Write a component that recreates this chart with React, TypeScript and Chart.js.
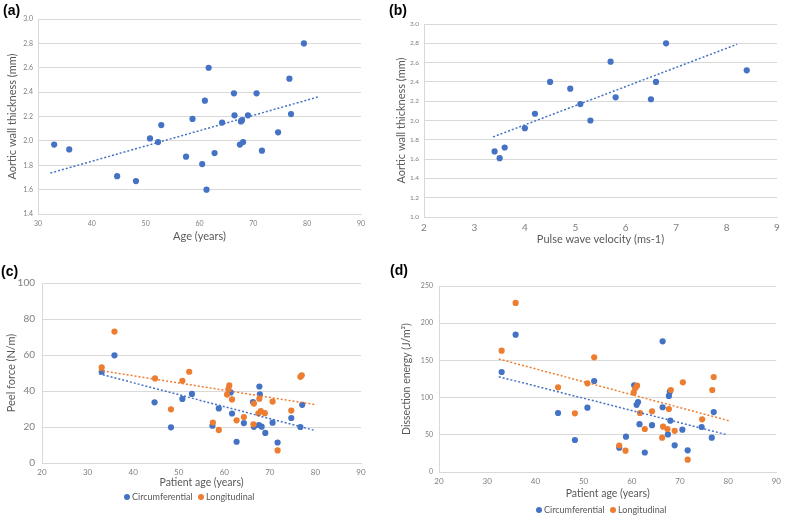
import React, { useEffect, useRef } from "react";
import { Chart, registerables } from "chart.js";
Chart.register(...registerables);

const BLUE = "#4472C4";
const ORANGE = "#ED7D31";
const GRID = "#D9D9D9";
const TICK = "#7F7F7F";
const TITLE = "#595959";
const FONT = "Lato, 'Open Sans', sans-serif";

// Panel (a): aortic wall thickness vs age
const ageA = [33.0, 35.8, 44.7, 48.2, 50.8, 52.3, 52.9, 57.5, 58.7, 60.5, 61.0, 61.3, 61.7, 62.8, 64.2, 66.4, 66.5, 67.5, 67.7, 67.9, 68.1, 69.0, 70.6, 71.6, 74.6, 76.7, 77.0, 79.4];
const thickA = [1.97, 1.93, 1.71, 1.67, 2.02, 1.99, 2.13, 1.87, 2.18, 1.81, 2.33, 1.60, 2.60, 1.90, 2.15, 2.39, 2.21, 1.97, 2.16, 2.17, 1.99, 2.21, 2.39, 1.92, 2.07, 2.51, 2.22, 2.80];
const trendAX = [32.3, 82.0];
const trendAY = [1.736, 2.36];

// Panel (b): aortic wall thickness vs pulse wave velocity
const pwvB = [3.4, 3.5, 3.6, 4.0, 4.2, 4.5, 4.9, 5.1, 5.3, 5.7, 5.8, 6.5, 6.6, 6.8, 8.4];
const thickB = [1.68, 1.61, 1.72, 1.92, 2.07, 2.40, 2.33, 2.17, 2.00, 2.61, 2.24, 2.22, 2.40, 2.80, 2.52];
const trendBX = [3.37, 8.21];
const trendBY = [1.83, 2.79];

// Panel (c): peel force vs patient age
const ageCcirc = [33.1, 35.9, 44.7, 48.3, 50.8, 52.9, 57.4, 58.8, 61.4, 61.7, 62.7, 64.3, 66.3, 66.5, 67.6, 67.7, 67.8, 68.2, 69.0, 70.6, 71.7, 74.7, 76.7, 77.1];
const peelCcirc = [50.7, 59.8, 33.7, 19.8, 35.6, 38.4, 20.7, 30.3, 39.2, 27.5, 11.8, 22.2, 33.9, 20.1, 21.1, 42.5, 38.2, 20.2, 16.7, 22.4, 11.4, 25.0, 20.0, 32.3];
const ageClong = [33.1, 35.9, 44.8, 48.3, 50.8, 52.3, 57.5, 58.8, 60.6, 60.9, 61.1, 61.7, 62.7, 64.3, 66.4, 66.5, 67.5, 67.7, 68.0, 68.9, 70.6, 71.7, 74.7, 76.7, 77.0];
const peelClong = [53.1, 73.0, 47.0, 29.8, 45.7, 50.7, 22.5, 18.4, 38.0, 41.1, 43.1, 35.3, 23.7, 25.5, 21.5, 33.0, 27.6, 35.7, 28.9, 27.7, 34.1, 7.0, 29.1, 47.9, 48.7];
const trendCcircX = [32.5, 80.0];
const trendCcircY = [49.6, 18.0];
const trendClongX = [32.5, 80.0];
const trendClongY = [51.5, 32.4];

// Panel (d): dissection energy vs patient age
const ageDcirc = [33.0, 35.9, 44.7, 48.2, 50.8, 52.2, 57.4, 58.8, 60.5, 61.0, 61.3, 61.6, 62.7, 64.2, 66.4, 66.4, 67.5, 67.7, 67.9, 68.0, 68.9, 70.5, 71.6, 74.5, 76.6, 77.0];
const energyDcirc = [134.4, 184.6, 79.3, 43.0, 86.5, 122.3, 32.7, 47.5, 116.5, 90.3, 94.1, 64.3, 26.2, 63.0, 175.6, 87.0, 50.5, 102.2, 108.0, 69.0, 35.9, 56.9, 29.2, 60.5, 46.1, 80.6];
const ageDlong = [33.0, 35.9, 44.7, 48.2, 50.8, 52.2, 57.4, 58.7, 60.4, 60.7, 61.1, 61.7, 62.7, 64.2, 66.3, 66.5, 67.4, 67.7, 68.1, 68.9, 70.6, 71.6, 74.6, 76.7, 77.0];
const energyDlong = [163.1, 227.2, 113.8, 78.9, 119.2, 154.1, 35.6, 28.7, 106.6, 112.5, 116.0, 79.3, 57.8, 81.5, 46.1, 60.9, 57.8, 84.7, 110.2, 55.3, 120.5, 16.6, 70.8, 110.2, 127.7];
const trendDcircX = [32.4, 79.7];
const trendDcircY = [128.1, 50.2];
const trendDlongX = [32.4, 80.1];
const trendDlongY = [151.9, 69.0];

const zip = (xs: number[], ys: number[]) => xs.map((x, i) => ({ x, y: ys[i] }));

function pointSet(label: string, xs: number[], ys: number[], color: string, order: number) {
  return {
    label,
    data: zip(xs, ys),
    backgroundColor: color,
    borderColor: color,
    pointRadius: 3.1,
    pointBorderWidth: 0,
    showLine: false,
    order,
  };
}

function trendSet(xs: number[], ys: number[], color: string) {
  return {
    label: "trend",
    data: zip(xs, ys),
    borderColor: color,
    backgroundColor: color,
    borderWidth: 1.5,
    borderDash: [2, 2],
    pointRadius: 0,
    showLine: true,
    fill: false,
    order: 0,
  };
}

type PanelOpts = {
  datasets: any[];
  xMin: number; xMax: number; xStep: number;
  yMin: number; yMax: number; yStep: number; yDecimals: number;
  xTitle: string; yTitle: string;
  yW: number; xH: number; padTop: number; padRight: number;
  xTickSize: number; xTickPad: number;
  yTickSize: number; yTickPad: number;
  xTitleSize: number; xTitlePadBottom: number;
  yTitleSize: number; yTitlePadTop: number;
};

function makeConfig(p: PanelOpts): any {
  return {
    type: "scatter",
    data: { datasets: p.datasets },
    options: {
      animation: false,
      responsive: false,
      maintainAspectRatio: false,
      layout: { padding: { top: p.padTop, right: p.padRight, left: 0, bottom: 0 } },
      plugins: { legend: { display: false }, tooltip: { enabled: false } },
      scales: {
        x: {
          type: "linear",
          min: p.xMin,
          max: p.xMax,
          ticks: {
            stepSize: p.xStep,
            font: { family: FONT, size: p.xTickSize },
            color: TICK,
            padding: p.xTickPad,
            maxRotation: 0,
            autoSkip: false,
            callback: (v: any) => String(Math.round(Number(v))),
          },
          grid: { display: false, drawTicks: false },
          border: { display: true, color: GRID, width: 1 },
          title: {
            display: true,
            text: p.xTitle,
            color: TITLE,
            font: { family: FONT, size: p.xTitleSize },
            padding: { top: 0, bottom: p.xTitlePadBottom },
          },
          afterFit: (s: any) => { s.height = p.xH; },
        },
        y: {
          type: "linear",
          min: p.yMin,
          max: p.yMax,
          ticks: {
            stepSize: p.yStep,
            font: { family: FONT, size: p.yTickSize },
            color: TICK,
            padding: p.yTickPad,
            autoSkip: false,
            callback: (v: any) => Number(v).toFixed(p.yDecimals),
          },
          grid: { color: GRID, drawTicks: false, lineWidth: 1 },
          border: { display: true, color: GRID, width: 1 },
          title: {
            display: true,
            text: p.yTitle,
            color: TITLE,
            font: { family: FONT, size: p.yTitleSize },
            padding: { top: p.yTitlePadTop, bottom: 0 },
          },
          afterFit: (s: any) => { s.width = p.yW; },
        },
      },
    },
  };
}

function Panel({ left, top, width, height, opts }: { left: number; top: number; width: number; height: number; opts: PanelOpts }) {
  const ref = useRef<HTMLCanvasElement | null>(null);
  useEffect(() => {
    if (!ref.current) return;
    const chart = new Chart(ref.current, makeConfig(opts));
    return () => chart.destroy();
  }, []);
  return (
    <canvas
      ref={ref}
      width={width}
      height={height}
      style={{ position: "absolute", left, top, width, height }}
    />
  );
}

const labelStyle: React.CSSProperties = {
  position: "absolute",
  fontFamily: "'Liberation Sans', Arial, sans-serif",
  fontWeight: "bold",
  fontSize: 14,
  color: "#000",
  lineHeight: "16px",
};

function LegendItem({ left, top, color, text }: { left: number; top: number; color: string; text: string }) {
  return (
    <div style={{ position: "absolute", left, top, display: "flex", alignItems: "center", fontFamily: FONT, fontSize: 9, color: TITLE, whiteSpace: "nowrap", lineHeight: "12px" }}>
      <span style={{ display: "inline-block", width: 6, height: 6, borderRadius: 3, background: color, marginRight: 2 }} />
      <span>{text}</span>
    </div>
  );
}

function Legend({ left, top }: { left: number; top: number }) {
  return (
    <>
      <LegendItem left={left} top={top} color={BLUE} text="Circumferential" />
      <LegendItem left={left + 74} top={top} color={ORANGE} text="Longitudinal" />
    </>
  );
}

export default function App() {
  const optsA: PanelOpts = {
    datasets: [trendSet(trendAX, trendAY, BLUE), pointSet("Thickness", ageA, thickA, BLUE, 1)],
    xMin: 30, xMax: 90, xStep: 10,
    yMin: 1.4, yMax: 3.0, yStep: 0.2, yDecimals: 1,
    xTitle: "Age (years)", yTitle: "Aortic wall thickness (mm)",
    yW: 38, xH: 36, padTop: 19, padRight: 32,
    xTickSize: 7, xTickPad: 6, yTickSize: 7, yTickPad: 5,
    xTitleSize: 11, xTitlePadBottom: 7, yTitleSize: 11, yTitlePadTop: 6,
  };
  const optsB: PanelOpts = {
    datasets: [trendSet(trendBX, trendBY, BLUE), pointSet("Thickness", pwvB, thickB, BLUE, 1)],
    xMin: 2, xMax: 9, xStep: 1,
    yMin: 1.0, yMax: 3.0, yStep: 0.2, yDecimals: 1,
    xTitle: "Pulse wave velocity (ms-1)", yTitle: "Aortic wall thickness (mm)",
    yW: 31, xH: 33, padTop: 24, padRight: 9,
    xTickSize: 10, xTickPad: 5, yTickSize: 6.5, yTickPad: 5,
    xTitleSize: 11, xTitlePadBottom: 4, yTitleSize: 11, yTitlePadTop: 2,
  };
  const optsC: PanelOpts = {
    datasets: [
      trendSet(trendCcircX, trendCcircY, BLUE),
      trendSet(trendClongX, trendClongY, ORANGE),
      pointSet("Longitudinal", ageClong, peelClong, ORANGE, 1),
      pointSet("Circumferential", ageCcirc, peelCcirc, BLUE, 2),
    ],
    xMin: 20, xMax: 90, xStep: 10,
    yMin: 0, yMax: 100, yStep: 20, yDecimals: 0,
    xTitle: "Patient age (years)", yTitle: "Peel force (N/m)",
    yW: 42, xH: 52, padTop: 33, padRight: 32,
    xTickSize: 8, xTickPad: 5, yTickSize: 10, yTickPad: 7,
    xTitleSize: 10.5, xTitlePadBottom: 26.5, yTitleSize: 11, yTitlePadTop: 5,
  };
  const optsD: PanelOpts = {
    datasets: [
      trendSet(trendDcircX, trendDcircY, BLUE),
      trendSet(trendDlongX, trendDlongY, ORANGE),
      pointSet("Longitudinal", ageDlong, energyDlong, ORANGE, 1),
      pointSet("Circumferential", ageDcirc, energyDcirc, BLUE, 2),
    ],
    xMin: 20, xMax: 90, xStep: 10,
    yMin: 0, yMax: 250, yStep: 50, yDecimals: 0,
    xTitle: "Patient age (years)", yTitle: "Dissection energy (J/m²)",
    yW: 46, xH: 43, padTop: 36, padRight: 4,
    xTickSize: 8, xTickPad: 5, yTickSize: 7, yTickPad: 6,
    xTitleSize: 10.5, xTitlePadBottom: 15.5, yTitleSize: 10.5, yTitlePadTop: 7,
  };

  return (
    <div style={{ position: "absolute", left: 0, top: 0, width: 786, height: 515, background: "#fff", overflow: "hidden" }}>
      <Panel left={0} top={0} width={393} height={250} opts={optsA} />
      <Panel left={393} top={0} width={393} height={250} opts={optsB} />
      <Panel left={0} top={250} width={393} height={265} opts={optsC} />
      <Panel left={393} top={250} width={393} height={265} opts={optsD} />
      <div style={{ ...labelStyle, left: 3, top: 2 }}>(a)</div>
      <div style={{ ...labelStyle, left: 389, top: 2 }}>(b)</div>
      <div style={{ ...labelStyle, left: 1, top: 263 }}>(c)</div>
      <div style={{ ...labelStyle, left: 390, top: 262 }}>(d)</div>
      <Legend left={124} top={491} />
      <Legend left={536} top={504} />
    </div>
  );
}
